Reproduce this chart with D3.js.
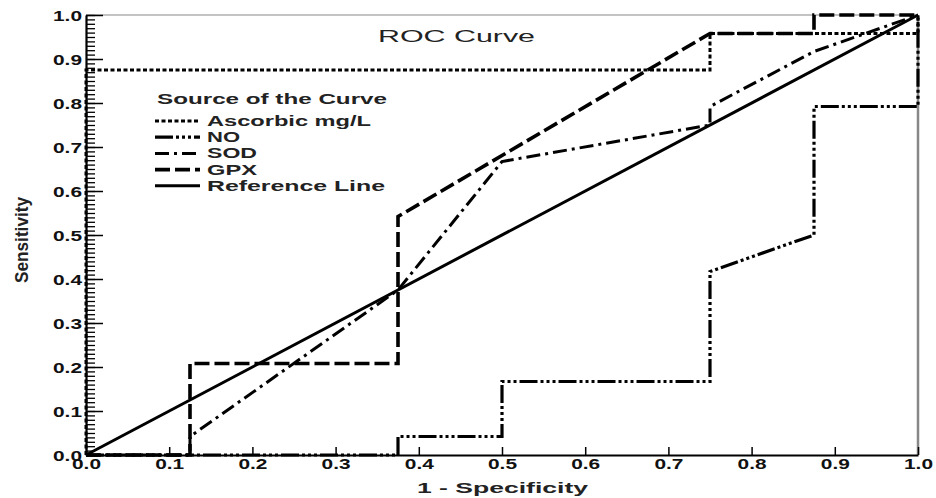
<!DOCTYPE html>
<html>
<head>
<meta charset="utf-8">
<script src="https://cdn.jsdelivr.net/npm/d3@7"></script>
<style>
  body { margin: 0; background: #fff; }
  text { font-family: "Liberation Sans", Arial, sans-serif; }
</style>
</head>
<body>
<svg id="chart"></svg>
<script>
// ROC curves: 1 - specificity on x, sensitivity on y
const ascorbicX = [0, 0, 0.75, 0.75, 1, 1];
const ascorbicY = [0, 0.875, 0.875, 0.958, 0.958, 1];
const noX = [0, 0.375, 0.375, 0.5, 0.5, 0.75, 0.75, 0.875, 0.875, 1, 1];
const noY = [0, 0, 0.042, 0.042, 0.167, 0.167, 0.417, 0.5, 0.792, 0.792, 1];
const sodX = [0, 0.125, 0.125, 0.375, 0.5, 0.75, 0.75, 0.875, 1];
const sodY = [0, 0, 0.042, 0.375, 0.667, 0.75, 0.792, 0.917, 1];
const gpxX = [0, 0.125, 0.125, 0.375, 0.375, 0.75, 0.875, 0.875, 1];
const gpxY = [0, 0, 0.208, 0.208, 0.542, 0.958, 0.958, 1, 1];
const refX = [0, 1];
const refY = [0, 1];

const seriesNames = ["Ascorbic mg/L", "NO", "SOD", "GPX", "Reference Line"];
const xTicks = [0, 0.1, 0.2, 0.3, 0.4, 0.5, 0.6, 0.7, 0.8, 0.9, 1.0];
const yTicks = [0, 0.1, 0.2, 0.3, 0.4, 0.5, 0.6, 0.7, 0.8, 0.9, 1.0];

const width = 936;
const height = 498;

const svg = d3.select("#chart")
  .attr("width", width)
  .attr("height", height);

const x = d3.scaleLinear().domain([0, 1]).range([86, 918]);
const y = d3.scaleLinear().domain([0, 1]).range([455, 15]);

// line styles per series (same order as seriesNames)
const styles = [
  { dash: "4,2.5", width: 3 },
  { dash: "18,3,3,3,3,3,3,3", width: 3.2 },
  { dash: "14,5,3,5", width: 3 },
  { dash: "15,5", width: 3.6 },
  { dash: null, width: 3 }
];

// frame: grey top and right edges
svg.append("line")
  .attr("x1", x(0)).attr("x2", x(1))
  .attr("y1", y(1)).attr("y2", y(1))
  .attr("stroke", "#888").attr("stroke-width", 1.2);
svg.append("line")
  .attr("x1", x(1)).attr("x2", x(1))
  .attr("y1", y(1)).attr("y2", y(0))
  .attr("stroke", "#888").attr("stroke-width", 2.5);

// x axis, ticks point inward
const xAxis = svg.append("g")
  .attr("transform", `translate(0,${y(0)})`)
  .call(d3.axisBottom(x).tickValues(xTicks).tickFormat(d3.format(".1f"))
    .tickSize(-8).tickSizeOuter(0).tickPadding(4));

// y axis minor ticks every 0.01
svg.append("g")
  .attr("transform", `translate(${x(0)},0)`)
  .call(d3.axisLeft(y).tickValues(d3.range(0, 101).map(i => i / 100))
    .tickFormat("").tickSize(-9).tickSizeOuter(0))
  .call(g => g.select(".domain").remove())
  .call(g => g.selectAll(".tick line").attr("stroke-width", 1.3));

const yAxis = svg.append("g")
  .attr("transform", `translate(${x(0)},0)`)
  .call(d3.axisLeft(y).tickValues(yTicks).tickFormat(d3.format(".1f"))
    .tickSize(-17).tickSizeOuter(0).tickPadding(4));

[xAxis, yAxis].forEach(g => {
  g.select(".domain").attr("stroke", "#000").attr("stroke-width", 2.2);
  g.selectAll(".tick line").attr("stroke", "#000").attr("stroke-width", 1.5);
  g.selectAll("text")
    .attr("font-size", 14)
    .attr("font-weight", "bold")
    .attr("fill", "#111")
    .attr("textLength", 29)
    .attr("lengthAdjust", "spacingAndGlyphs");
});
yAxis.selectAll("text").attr("dy", "0.42em");

// curves
const line = d3.line().x(d => x(d[0])).y(d => y(d[1]));
const curves = [
  d3.zip(ascorbicX, ascorbicY),
  d3.zip(noX, noY),
  d3.zip(sodX, sodY),
  d3.zip(gpxX, gpxY),
  d3.zip(refX, refY)
];

svg.selectAll("path.curve")
  .data(curves)
  .enter()
  .append("path")
  .attr("class", "curve")
  .attr("d", line)
  .attr("fill", "none")
  .attr("stroke", "#000")
  .attr("stroke-width", (d, i) => styles[i].width)
  .attr("stroke-dasharray", (d, i) => styles[i].dash);

// title
svg.append("text")
  .attr("x", 378).attr("y", 42)
  .attr("font-size", 16)
  .attr("fill", "#222")
  .attr("textLength", 157)
  .attr("lengthAdjust", "spacingAndGlyphs")
  .text("ROC Curve");

// legend
svg.append("text")
  .attr("x", 157).attr("y", 104)
  .attr("font-size", 14)
  .attr("font-weight", "bold")
  .attr("fill", "#222")
  .attr("textLength", 230)
  .attr("lengthAdjust", "spacingAndGlyphs")
  .text("Source of the Curve");

const legendWidths = [164, 33, 50, 50, 178];
const legend = svg.selectAll(".legend")
  .data(seriesNames)
  .enter().append("g")
  .attr("class", "legend")
  .attr("transform", (d, i) => `translate(155,${121 + i * 16.2})`);

legend.append("line")
  .attr("x1", 0).attr("x2", 45)
  .attr("stroke", "#000")
  .attr("stroke-width", (d, i) => styles[i].width)
  .attr("stroke-dasharray", (d, i) => styles[i].dash);

legend.append("text")
  .attr("x", 52)
  .attr("y", 5)
  .attr("font-size", 14)
  .attr("font-weight", "bold")
  .attr("fill", "#222")
  .attr("textLength", (d, i) => legendWidths[i])
  .attr("lengthAdjust", "spacingAndGlyphs")
  .text(d => d);

// axis titles
svg.append("text")
  .attr("x", 417).attr("y", 493)
  .attr("font-size", 15)
  .attr("font-weight", "bold")
  .attr("fill", "#222")
  .attr("textLength", 171)
  .attr("lengthAdjust", "spacingAndGlyphs")
  .text("1 - Specificity");

svg.append("text")
  .attr("transform", "translate(28,240) scale(1.4,1) rotate(-90)")
  .attr("text-anchor", "middle")
  .attr("font-size", 13)
  .attr("font-weight", "bold")
  .attr("fill", "#222")
  .attr("textLength", 86)
  .attr("lengthAdjust", "spacingAndGlyphs")
  .text("Sensitivity");
</script>
</body>
</html>
